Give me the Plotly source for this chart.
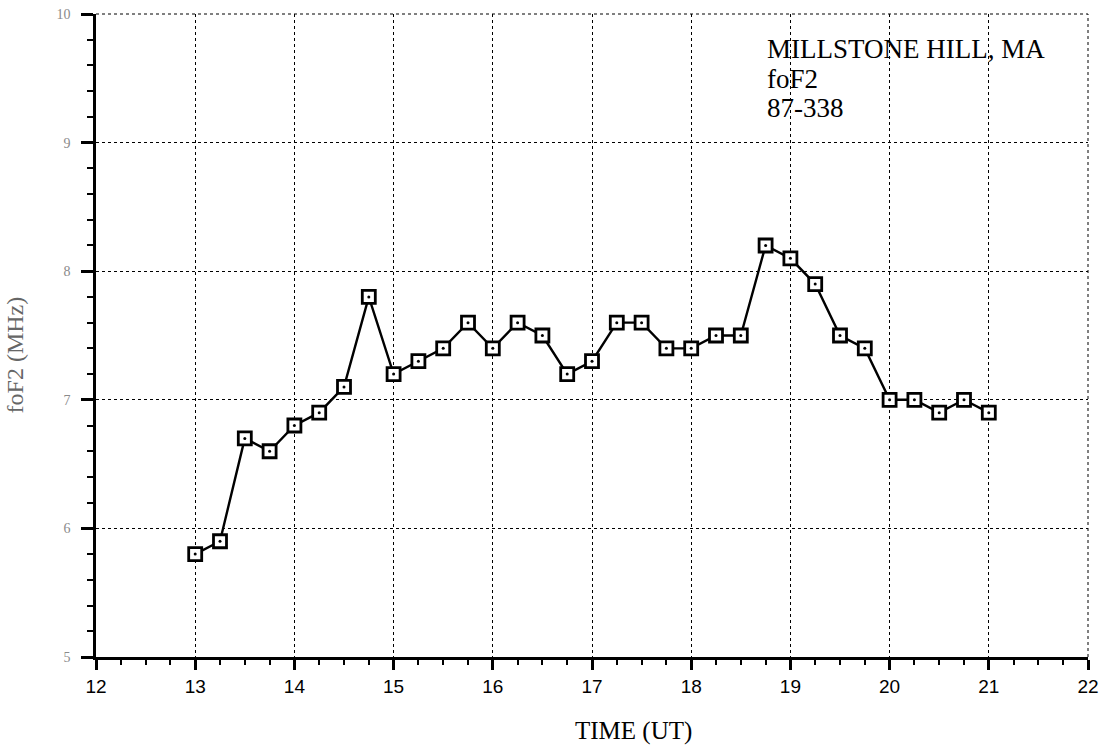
import plotly.graph_objects as go

time_ut = [13.0, 13.25, 13.5, 13.75, 14.0, 14.25, 14.5, 14.75, 15.0, 15.25, 15.5, 15.75,
           16.0, 16.25, 16.5, 16.75, 17.0, 17.25, 17.5, 17.75, 18.0, 18.25, 18.5, 18.75,
           19.0, 19.25, 19.5, 19.75, 20.0, 20.25, 20.5, 20.75, 21.0]
fof2 = [5.8, 5.9, 6.7, 6.6, 6.8, 6.9, 7.1, 7.8, 7.2, 7.3, 7.4, 7.6,
        7.4, 7.6, 7.5, 7.2, 7.3, 7.6, 7.6, 7.4, 7.4, 7.5, 7.5, 8.2,
        8.1, 7.9, 7.5, 7.4, 7.0, 7.0, 6.9, 7.0, 6.9]
x_ticks = [12, 13, 14, 15, 16, 17, 18, 19, 20, 21, 22]
y_ticks = [5, 6, 7, 8, 9, 10]
label_lines = ["MILLSTONE HILL, MA", "foF2", "87-338"]

fig = go.Figure()
fig.add_trace(go.Scatter(
    x=time_ut, y=fof2, mode="lines+markers",
    line=dict(color="black", width=2.4),
    marker=dict(symbol="square", size=13, color="white", line=dict(width=2.8, color="black")),
    showlegend=False, hoverinfo="x+y",
))
fig.add_trace(go.Scatter(
    x=time_ut, y=fof2, mode="markers",
    marker=dict(symbol="circle", size=3, color="black"),
    showlegend=False, hoverinfo="skip",
))

fig.update_layout(
    width=1105, height=750,
    margin=dict(l=96, r=17, t=14, b=93, autoexpand=False),
    paper_bgcolor="white", plot_bgcolor="white",
    font=dict(family="Liberation Serif", color="black"),
    xaxis=dict(
        range=[12, 22], tickvals=x_ticks, ticktext=[str(v) for v in x_ticks],
        showline=True, linecolor="black", linewidth=2.5,
        ticks="outside", ticklen=10, tickwidth=2.5, tickcolor="black",
        tickfont=dict(family="Liberation Sans", size=19, color="black"),
        showgrid=True, gridcolor="black", gridwidth=1, griddash="dot",
        zeroline=False, automargin=False,
        minor=dict(dtick=0.25, ticks="outside", ticklen=5, tickwidth=2, tickcolor="black", showgrid=False),
    ),
    yaxis=dict(
        range=[5, 10], tickvals=y_ticks, ticktext=[str(v) for v in y_ticks],
        showline=True, linecolor="black", linewidth=2.5,
        ticks="outside", ticklen=12, tickwidth=2.5, tickcolor="black",
        tickfont=dict(family="Liberation Serif", size=14, color="#8a8a8a"),
        ticklabelstandoff=8,
        showgrid=True, gridcolor="black", gridwidth=1, griddash="dot",
        zeroline=False, automargin=False,
        minor=dict(dtick=0.2, ticks="outside", ticklen=6, tickwidth=2, tickcolor="black", showgrid=False),
    ),
    shapes=[
        dict(type="line", xref="paper", yref="paper", x0=0, x1=1, y0=1, y1=1,
             line=dict(color="black", width=1, dash="dot")),
        dict(type="line", xref="paper", yref="paper", x0=1, x1=1, y0=0, y1=1,
             line=dict(color="black", width=1, dash="dot")),
    ],
    annotations=[
        dict(text="TIME (UT)", xref="paper", yref="paper", x=0.542, y=-0.115,
             xanchor="center", yanchor="middle", showarrow=False,
             font=dict(family="Liberation Serif", size=25, color="black")),
        dict(text="foF2 (MHz)", xref="paper", yref="paper", x=-0.082, y=0.47,
             xanchor="center", yanchor="middle", textangle=-90, showarrow=False,
             font=dict(family="Liberation Serif", size=24, color="#666666")),
    ] + [
        dict(text=t, xref="paper", yref="paper", x=0.674, y=yy,
             xanchor="left", yanchor="top", align="left", showarrow=False,
             font=dict(family="Liberation Serif", size=27, color="black"))
        for t, yy in zip(label_lines, [0.972, 0.926, 0.880])
    ],
)

fig.write_html("out.html")
